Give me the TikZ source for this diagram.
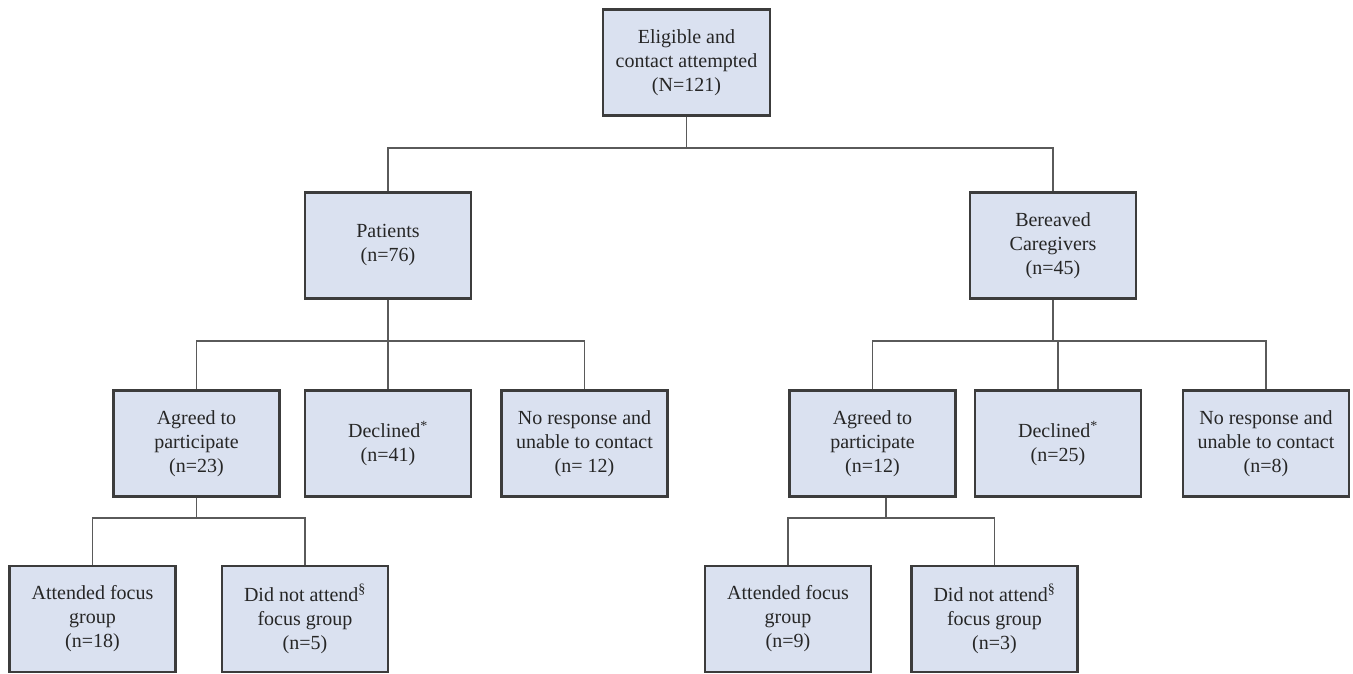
\documentclass[tikz,border=0pt]{standalone}
\usepackage{fontspec}
\setmainfont{Liberation Serif}
\definecolor{boxfill}{HTML}{DAE1F0}
\definecolor{boxline}{HTML}{3C3C3C}
\definecolor{connline}{HTML}{5A5A5A}
\begin{document}
\begin{tikzpicture}[x=1pt,y=-1pt,
  flowbox/.style={draw=boxline,line width=2.4pt,fill=boxfill,minimum width=166pt,minimum height=106pt,
    align=center,inner sep=2pt,font=\fontsize{20}{24}\selectfont,text=black!85},
  conn/.style={draw=connline,line width=1.2pt}]
\useasboundingbox (0,0) rectangle (1353,673);
\fill[white] (0,0) rectangle (1353,673);
% nodes
\node[flowbox,minimum width=167pt] (top) at (686.5,62.5) {Eligible and\\contact attempted\\(N=121)};
\node[flowbox] (pat) at (388,245.5) {Patients\\(n=76)};
\node[flowbox] (ber) at (1053,245.5) {Bereaved\\Caregivers\\(n=45)};
\node[flowbox] (agr1) at (196.5,443.5) {Agreed to\\participate\\(n=23)};
\node[flowbox] (dec1) at (388,443.5) {Declined\textsuperscript{*}\\(n=41)};
\node[flowbox] (nor1) at (584.5,443.5) {No response and\\unable to contact\\(n= 12)};
\node[flowbox] (agr2) at (872.5,443.5) {Agreed to\\participate\\(n=12)};
\node[flowbox] (dec2) at (1058,443.5) {Declined\textsuperscript{*}\\(n=25)};
\node[flowbox] (nor2) at (1266,443.5) {No response and\\unable to contact\\(n=8)};
\node[flowbox] (att1) at (92.5,619) {Attended focus\\group\\(n=18)};
\node[flowbox] (dnt1) at (305,619) {Did not attend\textsuperscript{§}\\focus group\\(n=5)};
\node[flowbox] (att2) at (788,619) {Attended focus\\group\\(n=9)};
\node[flowbox] (dnt2) at (994.5,619) {Did not attend\textsuperscript{§}\\focus group\\(n=3)};
% junctions
\coordinate (j0) at (686.5,148);
\coordinate (j1) at (388,341);
\coordinate (j2) at (1055,341);
\coordinate (j3) at (196.5,518);
\coordinate (j4) at (886,518);
% connectors
\draw[conn] (top.south) -- (j0);
\draw[conn] (pat.north) |- (j0) -| (ber.north);
\draw[conn] (pat.south) -- (dec1.north);
\draw[conn] (agr1.north) |- (j1) -| (nor1.north);
\draw[conn] (ber.south) -- (ber.south |- j2);
\draw[conn] (dec2.north) -- (dec2.north |- j2);
\draw[conn] (agr2.north) |- (j2) -| (nor2.north);
\draw[conn] (agr1.south) -- (j3);
\draw[conn] (att1.north) |- (j3) -| (dnt1.north);
\draw[conn] (j4 |- agr2.south) -- (j4);
\draw[conn] (att2.north) |- (j4) -| (dnt2.north);
\end{tikzpicture}
\end{document}
